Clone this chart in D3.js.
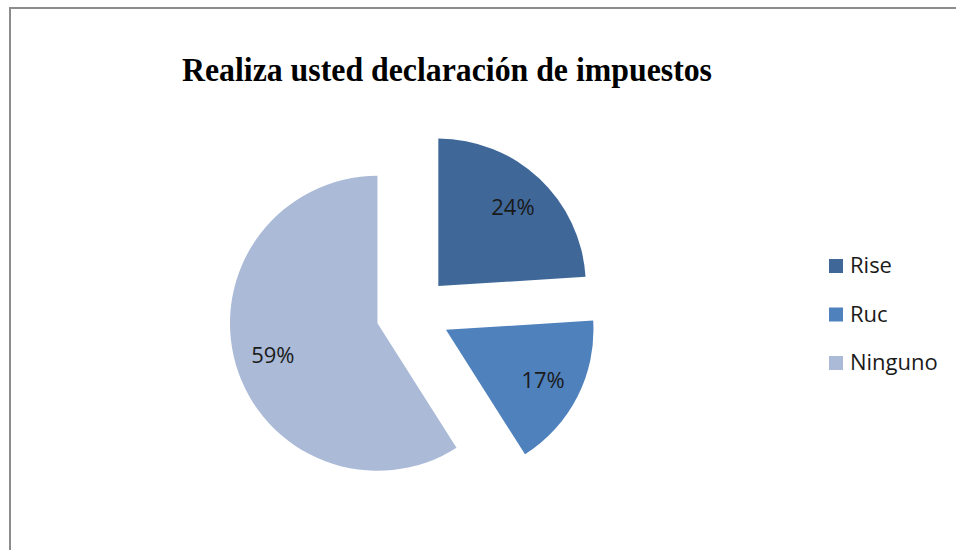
<!DOCTYPE html>
<html>
<head>
<meta charset="utf-8">
<script src="https://cdn.jsdelivr.net/npm/d3@7"></script>
<style>
  body { margin: 0; background: #fff; }
  svg { display: block; }
</style>
</head>
<body>
<script>
// data
var categories = ["Rise", "Ruc", "Ninguno"];
var values = [24, 17, 59];
var labels = ["24%", "17%", "59%"];
var colors = ["#3F6899", "#4F81BD", "#AABAD7"];

var svgWidth = 956, svgHeight = 550;

var svg = d3.select("body").append("svg")
    .attr("width", svgWidth)
    .attr("height", svgHeight);

// chart border
svg.append("rect")
    .attr("x", 10)
    .attr("y", 8)
    .attr("width", 980)
    .attr("height", 600)
    .attr("fill", "none")
    .attr("stroke", "#8c8c8c")
    .attr("stroke-width", 2);

// title
svg.append("text")
    .attr("x", 182)
    .attr("y", 81)
    .attr("textLength", 530)
    .attr("lengthAdjust", "spacingAndGlyphs")
    .attr("font-family", "'Liberation Serif', 'Times New Roman', serif")
    .attr("font-weight", "bold")
    .attr("font-size", 33)
    .attr("fill", "#000")
    .text("Realiza usted declaración de impuestos");

var radius = 147.5;
var explode = 37;
var center = [413, 313];

var pie = d3.pie().sort(null).value(d => d);
var arcs = pie(values);

var arc = d3.arc().innerRadius(0).outerRadius(radius);
var labelArc = d3.arc().innerRadius(109).outerRadius(109);

var pieGroup = svg.append("g")
    .attr("transform", `translate(${center[0]}, ${center[1]})`);

var slices = pieGroup.selectAll("g.slice")
    .data(arcs)
    .enter()
    .append("g")
    .attr("class", "slice")
    .attr("transform", function(d) {
      var a = (d.startAngle + d.endAngle) / 2;
      return `translate(${Math.sin(a) * explode}, ${-Math.cos(a) * explode})`;
    });

slices.append("path")
    .attr("d", arc)
    .attr("fill", (d, i) => colors[i]);

slices.append("text")
    .attr("transform", d => `translate(${labelArc.centroid(d)})`)
    .attr("text-anchor", "middle")
    .attr("dy", "0.4em")
    .attr("font-family", "'Open Sans', sans-serif")
    .attr("font-size", 22)
    .attr("fill", "#1a1a1a")
    .text((d, i) => labels[i]);

// legend
var legend = svg.append("g")
    .attr("transform", "translate(829, 273)");

var legendItem = legend.selectAll("g")
    .data(categories)
    .enter()
    .append("g")
    .attr("transform", (d, i) => `translate(0, ${i * 48.5})`);

legendItem.append("rect")
    .attr("x", 0)
    .attr("y", -14)
    .attr("width", 14)
    .attr("height", 14)
    .attr("fill", (d, i) => colors[i]);

legendItem.append("text")
    .attr("x", 21)
    .attr("y", 0)
    .attr("font-family", "'Open Sans', sans-serif")
    .attr("font-size", 22)
    .attr("fill", "#1a1a1a")
    .text(d => d);
</script>
</body>
</html>
